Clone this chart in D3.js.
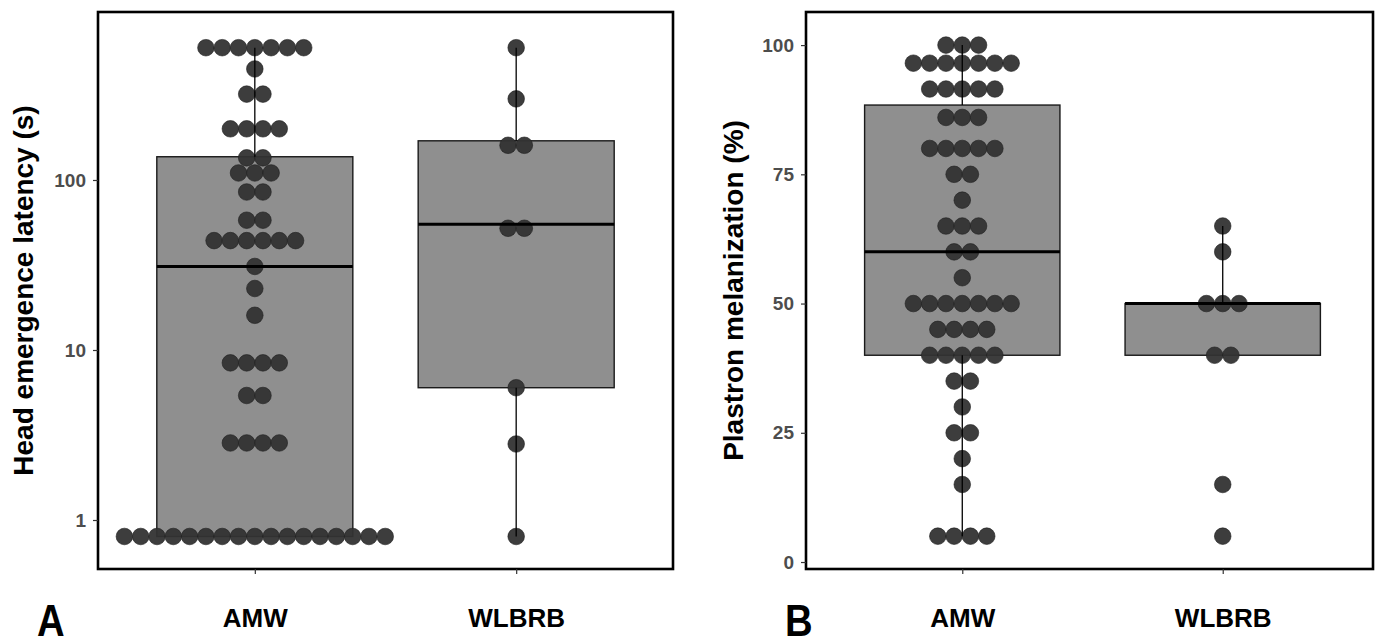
<!DOCTYPE html>
<html>
<head>
<meta charset="utf-8">
<script src="https://cdn.jsdelivr.net/npm/d3@7"></script>
<style>
  body { margin: 0; background: #fff; }
  svg { display: block; font-family: "Liberation Sans", Arial, sans-serif; }
</style>
</head>
<body>
<div class="chart"></div>
<script>
// ---- data ----
var groups = ["AMW", "WLBRB"];

// panel A : head emergence latency (s)
var latencyAMW = [600, 600, 600, 600, 600, 600, 600, 450, 320, 320, 200, 200, 200, 200,
  135, 135, 110, 110, 110, 85, 85, 58, 58, 44, 44, 44, 44, 44, 44, 31, 23, 16,
  8.4, 8.4, 8.4, 8.4, 5.4, 5.4, 2.84, 2.84, 2.84, 2.84,
  0.8, 0.8, 0.8, 0.8, 0.8, 0.8, 0.8, 0.8, 0.8, 0.8, 0.8, 0.8, 0.8, 0.8, 0.8, 0.8, 0.8];
var latencyWLBRB = [600, 300, 160, 160, 52, 52, 6, 2.8, 0.8];
// box stats [lower whisker, q1, median, q3, upper whisker]
var latencyBox = [[0.8, 0.8, 31, 137, 600], [0.8, 6, 55, 170, 600]];
var latencyTicks = [1, 10, 100];

// panel B : plastron melanization (%)
var melanAMW = [100, 100, 100, 96.5, 96.5, 96.5, 96.5, 96.5, 96.5, 96.5,
  91.5, 91.5, 91.5, 91.5, 91.5, 86, 86, 86, 80, 80, 80, 80, 80, 75, 75, 70,
  65, 65, 65, 60, 60, 55, 50, 50, 50, 50, 50, 50, 50, 45, 45, 45, 45,
  40, 40, 40, 40, 40, 35, 35, 30, 25, 25, 20, 15, 5, 5, 5, 5];
var melanWLBRB = [65, 60, 50, 50, 50, 40, 40, 15, 5];
var melanBox = [[5, 40, 60, 88.4, 100], [40, 40, 50, 50, 65]];
var melanTicks = [0, 25, 50, 75, 100];

// ---- layout ----
var W = 1383, H = 639;
var plotTop = 12, plotBottom = 569;
var dotR = 8.3, dotStep = 16.3;

var svg = d3.select(".chart").append("svg")
  .attr("width", W).attr("height", H);

function panel(opt) {
  var x = d3.scalePoint().domain(groups).range(opt.xRange).padding(0.6);
  var y = opt.y;
  var boxW = x.step() * 0.75;
  var g = svg.append("g");

  // boxes (fill)
  opt.box.forEach(function (b, i) {
    var cx = x(groups[i]);
    g.append("rect")
      .attr("x", cx - boxW / 2).attr("width", boxW)
      .attr("y", y(b[3])).attr("height", y(b[1]) - y(b[3]))
      .attr("fill", "#8f8f8f").attr("stroke", "#1a1a1a").attr("stroke-width", 1.4);
  });

  // dots, stacked sideways by equal value
  opt.values.forEach(function (vals, i) {
    var cx = x(groups[i]);
    var rows = d3.groups(vals, function (d) { return d; });
    rows.forEach(function (r) {
      var n = r[1].length;
      g.selectAll(null).data(r[1]).enter().append("circle")
        .attr("cx", function (d, k) { return cx + (k - (n - 1) / 2) * dotStep; })
        .attr("cy", y(r[0]))
        .attr("r", dotR)
        .attr("fill", "#333")
        .attr("fill-opacity", 0.95)
        .attr("stroke", "#1e1e1e").attr("stroke-width", 0.6);
    });
  });

  // whiskers + median on top
  opt.box.forEach(function (b, i) {
    var cx = x(groups[i]);
    g.append("line").attr("x1", cx).attr("x2", cx)
      .attr("y1", y(b[3])).attr("y2", y(b[4]))
      .attr("stroke", "#000").attr("stroke-width", 1.3);
    g.append("line").attr("x1", cx).attr("x2", cx)
      .attr("y1", y(b[1])).attr("y2", y(b[0]))
      .attr("stroke", "#000").attr("stroke-width", 1.3);
    g.append("line").attr("x1", cx - boxW / 2).attr("x2", cx + boxW / 2)
      .attr("y1", y(b[2])).attr("y2", y(b[2]))
      .attr("stroke", "#000").attr("stroke-width", 3);
  });

  // frame
  g.append("rect")
    .attr("x", opt.frame[0]).attr("y", plotTop)
    .attr("width", opt.frame[1] - opt.frame[0]).attr("height", plotBottom - plotTop)
    .attr("fill", "none").attr("stroke", "#000").attr("stroke-width", 2.6);

  // y axis
  var ya = g.append("g")
    .attr("transform", "translate(" + opt.frame[0] + ",0)")
    .call(d3.axisLeft(y).tickValues(opt.ticks).tickFormat(d3.format("d"))
      .tickSize(5).tickPadding(7));
  ya.select(".domain").remove();
  ya.selectAll(".tick line").attr("stroke", "#333").attr("stroke-width", 1.2);
  ya.selectAll(".tick text")
    .attr("fill", "#4d4d4d").style("font-size", "19px").style("font-weight", "bold");

  // x axis
  var xa = g.append("g")
    .attr("transform", "translate(0," + plotBottom + ")")
    .call(d3.axisBottom(x).tickSize(5).tickPadding(35));
  xa.select(".domain").remove();
  xa.selectAll(".tick line").attr("stroke", "#333").attr("stroke-width", 1.2);
  xa.selectAll(".tick text")
    .attr("fill", "#000").style("font-size", "26px").style("font-weight", "bold");

  // y title
  g.append("text")
    .attr("transform", "translate(" + opt.titleX + "," + (plotTop + plotBottom) / 2 + ") rotate(-90)")
    .attr("text-anchor", "middle")
    .style("font-size", "28px").style("font-weight", "bold")
    .text(opt.title);

  // panel letter
  g.append("text")
    .attr("x", opt.letterX).attr("y", 636)
    .attr("transform", "translate(" + opt.letterX + ",0) scale(0.85,1) translate(" + (-opt.letterX) + ",0)")
    .style("font-size", "45px").style("font-weight", "bold")
    .text(opt.letter);
}

panel({
  xRange: [98, 673], frame: [98, 673],
  y: d3.scaleLog().domain([0.515, 973]).range([plotBottom, plotTop]),
  values: [latencyAMW, latencyWLBRB], box: latencyBox, ticks: latencyTicks,
  title: "Head emergence latency (s)", titleX: 33, letter: "A", letterX: 37
});

panel({
  xRange: [806, 1379], frame: [806, 1373],
  y: d3.scaleLinear().domain([-1.35, 106.4]).range([plotBottom, plotTop]),
  values: [melanAMW, melanWLBRB], box: melanBox, ticks: melanTicks,
  title: "Plastron melanization (%)", titleX: 743, letter: "B", letterX: 785
});
</script>
</body>
</html>
